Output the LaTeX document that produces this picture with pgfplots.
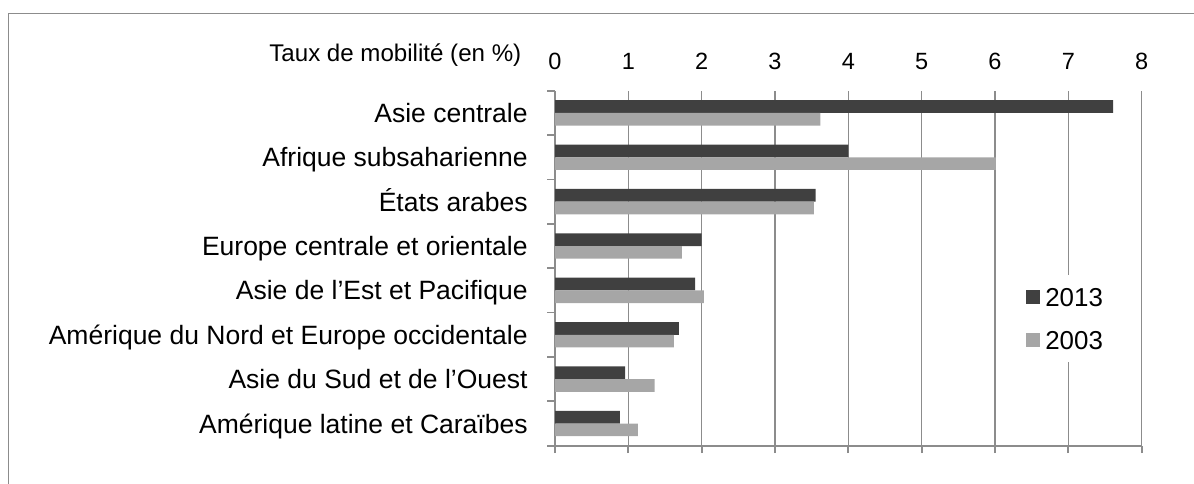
\documentclass[border=0pt]{standalone}
\usepackage{pgfplots}
\pgfplotsset{compat=1.18}
\usepackage{fontspec}
\setmainfont{Liberation Sans}
\definecolor{dark}{HTML}{404040}
\definecolor{light}{HTML}{A6A6A6}
\definecolor{gridgray}{HTML}{8C8C8C}
\begin{document}
\begin{tikzpicture}
\useasboundingbox (0,0) rectangle (597bp,-242bp);
% chart frame (left and top edges only are visible)
\draw[gridgray, line width=0.7bp] (4.25bp,-242bp) -- (4.25bp,-6.65bp) -- (597bp,-6.65bp);
\begin{axis}[
  at={(277.5bp,-222.85bp)}, anchor=south west,
  scale only axis, width=293.35bp, height=177.5bp,
  xmin=0, xmax=8, ymin=-0.5, ymax=7.5, clip=false,
  xbar, bar width=6.35bp,
  axis x line*=bottom, axis y line*=left,
  axis line style={-, gridgray, line width=0.9bp},
  xtick={0,...,8}, xticklabels={0,1,2,3,4,5,6,7,8},
  % labels are lifted from the bottom line to above the plot area
  xticklabel style={anchor=base, inner sep=0pt, yshift=192bp,
                    font=\fontsize{11.8}{14}\selectfont},
  ytick={-0.5,0.5,...,7.5}, ytick pos=left,
  % labels sit half a band above each boundary tick
  yticklabels={Amérique latine et Caraïbes, Asie du Sud et de l’Ouest,
    Amérique du Nord et Europe occidentale, Asie de l’Est et Pacifique,
    Europe centrale et orientale, États arabes, Afrique subsaharienne,
    Asie centrale, {}},
  yticklabel style={anchor=base east, inner sep=0pt, xshift=-9.75bp,
                    yshift=6.34bp, font=\fontsize{13.3}{15}\selectfont},
  tick align=outside, major tick length=3.75bp,
  tick style={gridgray, line width=0.9bp},
  xmajorgrids, grid style={gridgray, line width=0.65bp},
  legend style={at={(0.789,0.481)}, anchor=north west, draw=none, fill=white,
    inner xsep=4bp, inner ysep=6bp, row sep=12.25bp,
    font=\fontsize{13}{15}\selectfont,
    cells={anchor=west},
    nodes={inner sep=0pt, text height=9.5bp, text depth=0bp},
    /tikz/every odd column/.append style={column sep=2.5bp}},
  legend image code/.code={\fill[#1] (0bp,-3.5bp) rectangle (7bp,3.5bp);},
]
\addplot[fill=dark, draw=none, bar shift=3.175bp] coordinates {
  (7.61,7) (4.00,6) (3.555,5) (2.00,4) (1.91,3) (1.69,2) (0.955,1) (0.886,0)};
\addlegendentry{2013}
\addplot[fill=light, draw=none, bar shift=-3.175bp] coordinates {
  (3.62,7) (6.01,6) (3.53,5) (1.73,4) (2.03,3) (1.62,2) (1.36,1) (1.13,0)};
\addlegendentry{2003}
\node[anchor=base east, inner sep=0pt, xshift=-16.65bp, yshift=14.5bp,
      font=\fontsize{12.1}{14}\selectfont] at (axis description cs:0,1)
      {Taux de mobilité (en \%)};
\end{axis}
\end{tikzpicture}
\end{document}
